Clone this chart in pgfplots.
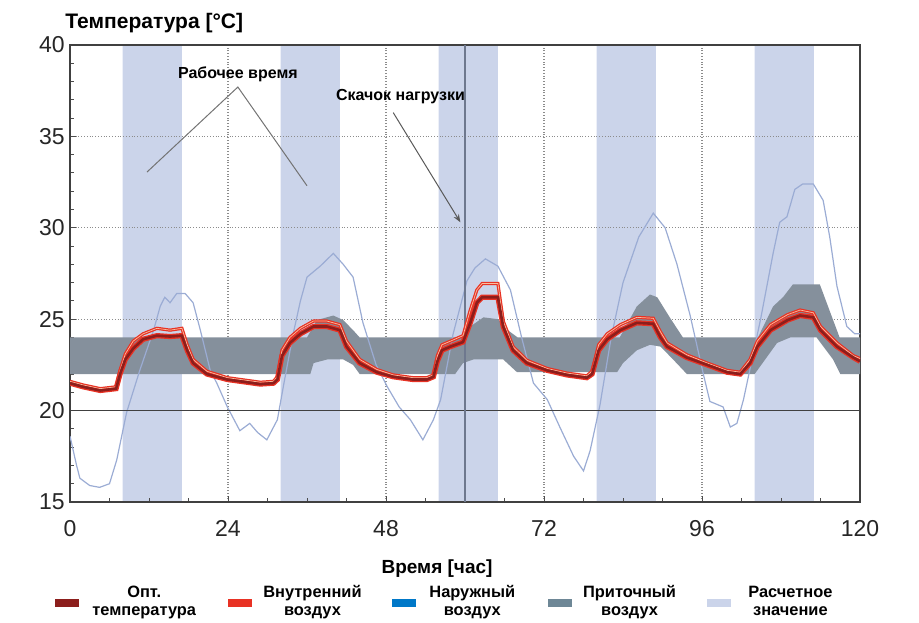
\documentclass[border=0pt]{standalone}
\usepackage{fontspec}
\setmainfont{Liberation Sans}
\usepackage{pgfplots}
\pgfplotsset{compat=1.18}
\usepackage{pgfplotstable}
\usepgfplotslibrary{fillbetween}
\usetikzlibrary{arrows.meta}

\definecolor{bandblue}{RGB}{203,212,234}
\definecolor{supplygray}{RGB}{133,144,156}
\definecolor{outsideline}{RGB}{155,172,212}
\definecolor{optred}{RGB}{140,30,28}
\definecolor{innerred}{RGB}{232,50,36}
\definecolor{innerlight}{RGB}{250,190,160}
\definecolor{legblue}{RGB}{0,120,200}
\definecolor{leggray}{RGB}{110,135,150}
\definecolor{markline}{RGB}{110,120,142}

% working hours: 40 = on, 15 = off (const plot)
\pgfplotstableread{
h v
0 15
8 40
17 15
32 40
41 15
56 40
65 15
80 40
89 15
104 40
113 15
120 15
}\workhours

\pgfplotstableread{
h t
0 18.6
1 17.0
1.5 16.3
3 15.9
4.5 15.8
6 16.0
7.1 17.3
8.6 19.9
10.6 22.2
12.7 24.4
13.7 25.7
14.4 26.2
15.2 25.9
16.2 26.4
17.5 26.4
18.7 25.9
19.8 24.4
21.3 22.2
22.3 21.5
23.9 20.2
25.8 18.9
27.3 19.3
28.5 18.8
29.9 18.4
31.5 19.5
32.5 21.5
33.9 24.2
35 26.0
36 27.3
38 27.9
40 28.6
41.5 28.0
43 27.3
44.5 24.8
46.5 22.5
48.2 21.3
50 20.2
51.7 19.5
53.6 18.4
55.2 19.5
56.3 20.6
58.2 24.2
60.3 27.1
61.5 27.8
63.1 28.3
65 27.9
66.9 26.6
68.6 24.0
70.4 21.5
72.5 20.6
74.4 19.1
76.5 17.5
78 16.7
79 17.8
80.5 20.3
82.2 24.0
84 27.0
86.4 29.5
88.6 30.8
90.4 30.0
92.2 28.0
94.2 25.2
96.2 22.0
97.2 20.5
99.2 20.2
100.3 19.1
101.3 19.3
102.3 20.6
104.9 25.0
106.8 28.6
107.8 30.3
108.9 30.6
110.1 32.1
111.3 32.4
112.9 32.4
114.4 31.5
115.4 29.5
116.5 26.8
118 24.6
119.2 24.2
120 24.2
}\outside

\pgfplotstableread{
h t
0 24.0
36 24.0
37.5 24.95
40 25.2
41.5 24.95
43 24.4
44 24.0
59.5 24.0
60.8 24.6
62.8 25.1
65 25.0
66.5 24.4
68 24.0
83.5 24.0
86.1 25.7
88.1 26.35
89.2 26.2
91.1 25.1
93.1 24.0
104.5 24.0
106.8 25.7
108.3 26.2
109.8 26.9
113.9 26.9
116.9 24.0
120 24.0
}\supplyup

\pgfplotstableread{
h t
0 22.0
36.5 22.0
37 22.6
39.1 22.8
41.5 22.8
43 22.5
44 22.0
58.5 22.0
59.7 22.6
61.3 22.8
65.8 22.8
67.9 22.1
83.1 22.1
84 22.6
86.1 23.3
88.1 23.6
89.7 23.5
91.6 22.8
93.7 22.0
104 22.0
107.4 23.7
109.4 24.0
113.4 24.0
115.9 22.8
117 22.0
120 22.0
}\supplylo

\pgfplotstableread{
h t
0 21.5
2 21.3
4.6 21.1
7 21.2
7.6 22.0
8.4 22.8
9.6 23.4
11.1 23.9
13.2 24.1
15.2 24.05
17 24.1
17.8 23.3
18.7 22.6
20.8 22.0
23.9 21.7
28.9 21.45
30.9 21.5
31.5 21.7
32.2 23.0
33.4 23.7
35 24.2
37 24.6
39 24.6
41 24.4
42 23.5
44 22.6
46.6 22.1
49.1 21.85
52.1 21.7
54.2 21.7
55.2 21.85
55.8 22.7
56.5 23.3
57.8 23.5
59.7 23.75
60.8 24.8
61.8 25.9
62.6 26.2
65 26.2
65.8 24.6
67.3 23.3
69.4 22.6
72.5 22.2
75.5 21.95
78.5 21.8
79.3 22.0
80.3 23.3
81.6 23.9
83.6 24.4
86.1 24.8
88.6 24.75
89.7 24.0
90.7 23.5
93.7 22.9
96.8 22.5
99.8 22.1
101.8 22.0
103.3 22.6
104.4 23.5
106.4 24.4
109 24.95
110.9 25.2
112.9 25.1
114 24.4
116.5 23.5
119 22.9
120 22.7
}\optimal

\pgfplotstableread{
h t
0 21.6
2 21.4
4.6 21.2
7 21.3
7.6 22.2
8.4 23.1
9.6 23.8
11.1 24.2
13.2 24.5
15.2 24.4
17 24.5
17.8 23.6
18.7 22.8
20.8 22.15
23.9 21.8
28.9 21.55
30.9 21.6
31.5 21.85
32.2 23.3
33.4 24.0
35 24.5
37 24.9
39 24.9
41 24.7
42 23.8
44 22.8
46.6 22.25
49.1 21.95
52.1 21.8
54.2 21.8
55.2 21.95
55.8 23.0
56.5 23.6
57.8 23.8
59.7 24.1
60.8 25.5
61.8 26.6
62.6 26.95
65 26.95
65.8 24.9
67.3 23.5
69.4 22.75
72.5 22.3
75.5 22.05
78.5 21.9
79.3 22.15
80.3 23.6
81.6 24.2
83.6 24.7
86.1 25.1
88.6 25.05
89.7 24.3
90.7 23.7
93.7 23.05
96.8 22.6
99.8 22.2
101.8 22.1
103.3 22.8
104.4 23.8
106.4 24.7
109 25.25
110.9 25.5
112.9 25.35
114 24.6
116.5 23.7
119 23.0
120 22.85
}\indoor

\newcommand{\legtext}[2]{\makebox[#1]{\renewcommand{\arraystretch}{1}\begin{tabular}[b]{@{}c@{}}#2\end{tabular}}}

\begin{document}
\begin{tikzpicture}
\begin{axis}[
    name=ax,
    set layers=standard,
    width=395pt,
    height=228.5pt,
    scale only axis,
    xmin=0, xmax=120,
    ymin=15, ymax=40,
    xtick={0,24,...,120},
    ytick={15,20,...,40},
    minor x tick num=3,
    minor y tick num=4,
    tick align=inside,
    xtick pos=bottom,
    ytick pos=left,
    major tick length=3pt,
    minor tick length=2pt,
    tick style={black!70, line width=0.5pt},
    xmajorgrids=true,
    ymajorgrids=true,
    grid style={densely dotted, black!45, line width=0.6pt},
    axis line style={black!75, line width=1pt},
    /pgf/number format/assume math mode=true,
    tick label style={font=\fontsize{11.5}{12}\selectfont, inner sep=0pt, text=black!85},
    yticklabel style={anchor=east, xshift=-2.5pt},
    xticklabel style={anchor=north, yshift=-9pt},
    ylabel={Температура [°C]},
    ylabel style={rotate=-90, anchor=base west, inner sep=0pt,
        at={(axis description cs:-0.0063,1.037)},
        font=\bfseries\fontsize{10.5}{12}\selectfont},
    xlabel={Время [час]},
    xlabel style={anchor=base, inner sep=0pt,
        at={(axis description cs:0.4646,-0.1554)},
        font=\bfseries\fontsize{9.5}{11}\selectfont},
    legend columns=5,
    legend style={
        at={(axis description cs:-0.019,-0.172)},
        anchor=north west,
        draw=none, fill=none, inner sep=0pt,
        font=\bfseries\fontsize{8.2}{8.9}\selectfont,
        /tikz/every even column/.append style={column sep=9.5pt},
    },
]
% working-hour bands
\addplot[const plot, fill=bandblue, draw=none, on layer=axis background, forget plot]
    table[x=h, y=v] {\workhours} \closedcycle;

% outside air
\addplot[outsideline, line width=0.6pt, forget plot] table[x=h, y=t] {\outside};

% supply air range
\addplot[draw=none, name path=sup, forget plot] table[x=h, y=t] {\supplyup};
\addplot[draw=none, name path=slo, forget plot] table[x=h, y=t] {\supplylo};
\addplot[supplygray, draw=none, forget plot] fill between[of=sup and slo];

% reference lines
\addplot[black!75, line width=0.8pt, forget plot] coordinates {(0,20) (120,20)};
\addplot[markline, line width=0.8pt, forget plot] coordinates {(60,15) (60,40)};

% indoor / optimal temperature
\addplot[innerred, line width=2.6pt, forget plot] table[x=h, y=t] {\optimal};
\addplot[innerred, line width=1.6pt, forget plot] table[x=h, y=t] {\indoor};
\addplot[innerlight, line width=0.35pt, forget plot] table[x=h, y=t] {\indoor};
\addplot[optred, line width=1.3pt, forget plot] table[x=h, y=t] {\optimal};

% annotations
\node[font=\bfseries\fontsize{8}{9}\selectfont] at (axis cs:25.5,38.4) {Рабочее время};
\draw[black!55, line width=0.5pt] (axis cs:11.7,33.05) -- (axis cs:25.5,37.7) -- (axis cs:36,32.3);
\node[font=\bfseries\fontsize{8}{9}\selectfont] at (axis cs:50.2,37.2) {Скачок нагрузки};
\draw[black!65, line width=0.5pt, -{Stealth[length=4pt,width=3pt]}] (axis cs:49.1,36.3) -- (axis cs:59.3,30.3);

% legend
\addlegendimage{legend image code/.code={\fill[optred] (0pt,-2.4pt) rectangle (11.5pt,1.1pt);}}
\addlegendentry{\legtext{61pt}{Опт.\\температура}}
\addlegendimage{legend image code/.code={\fill[innerred] (0pt,-2.4pt) rectangle (11.5pt,1.1pt);}}
\addlegendentry{\legtext{56.5pt}{Внутренний\\воздух}}
\addlegendimage{legend image code/.code={\fill[legblue] (0pt,-2.4pt) rectangle (11.5pt,1.1pt);}}
\addlegendentry{\legtext{52.5pt}{Наружный\\воздух}}
\addlegendimage{legend image code/.code={\fill[leggray] (0pt,-2.4pt) rectangle (11.5pt,1.1pt);}}
\addlegendentry{\legtext{54pt}{Приточный\\воздух}}
\addlegendimage{legend image code/.code={\fill[bandblue] (0pt,-2.4pt) rectangle (11.5pt,1.1pt);}}
\addlegendentry{\legtext{56pt}{Расчетное\\значение}}
\end{axis}
\path[use as bounding box] ([shift={(-35pt,-60pt)}]ax.south west) rectangle ([shift={(29.5pt,22.5pt)}]ax.north east);
\end{tikzpicture}
\end{document}
